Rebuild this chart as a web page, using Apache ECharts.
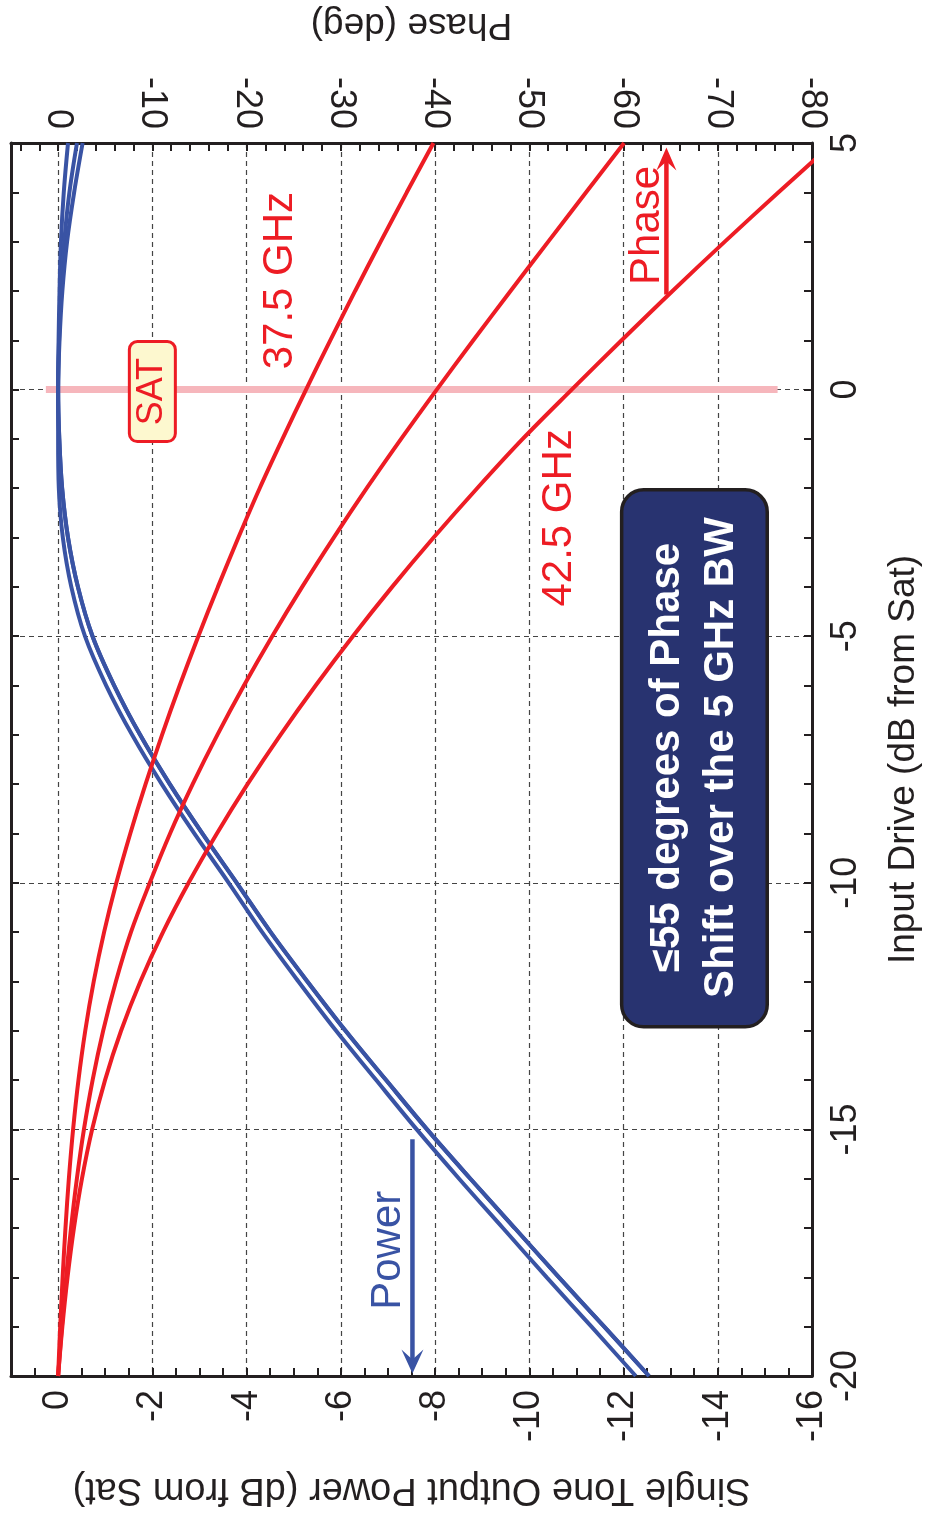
<!DOCTYPE html>
<html>
<head>
<meta charset="utf-8">
<script src="https://cdn.jsdelivr.net/npm/echarts@6/dist/echarts.min.js"></script>
<style>
html,body{margin:0;padding:0;background:#ffffff;}
#chart{width:929px;height:1513px;}
</style>
</head>
<body>
<div id="chart"></div>
<script>
// ---------------- DATA ----------------
const driveDb = [-20,-19,-18,-17,-16,-15,-14,-13,-12,-11,-10,-9,-8,-7,-6,-5,-4,-3,-2,-1,0,1,2,3,4,5];

// Single tone output power (dB from Sat), three measured traces
const powerTraceA = [-12.26,-11.32,-10.37,-9.44,-8.51,-7.61,-6.75,-5.90,-5.10,-4.33,-3.62,-2.89,-2.20,-1.57,-1.02,-0.57,-0.28,-0.10,-0.015,0,0,-0.01,-0.03,-0.06,-0.12,-0.21];
const powerTraceB = [-12.54,-11.59,-10.63,-9.69,-8.75,-7.83,-6.96,-6.10,-5.29,-4.51,-3.79,-3.06,-2.37,-1.74,-1.19,-0.73,-0.42,-0.21,-0.085,-0.025,0,-0.02,-0.06,-0.13,-0.24,-0.40];
const powerTraceC = [-12.54,-11.59,-10.63,-9.69,-8.75,-7.83,-6.96,-6.10,-5.29,-4.51,-3.79,-3.06,-2.37,-1.74,-1.19,-0.73,-0.42,-0.21,-0.085,-0.025,0,-0.03,-0.09,-0.19,-0.34,-0.52];

// Phase (deg) at three frequencies
const phase375GHz = [0,-0.22,-0.48,-0.78,-1.14,-1.59,-2.16,-2.88,-3.78,-4.88,-6.18,-7.66,-9.28,-11.03,-12.90,-14.88,-16.96,-19.13,-21.39,-23.81,-26.31,-28.88,-31.52,-34.23,-37.00,-39.83];
const phase400GHz = [0,-0.40,-0.85,-1.37,-1.99,-2.74,-3.66,-4.78,-6.13,-7.73,-9.73,-11.88,-14.28,-16.90,-19.72,-22.72,-25.90,-29.25,-32.75,-36.40,-40.18,-44.06,-48.01,-52.01,-56.03,-60.06];
const phase425GHz = [0,-0.45,-1.00,-1.68,-2.53,-3.61,-4.98,-6.68,-8.73,-11.13,-13.85,-16.85,-20.10,-23.60,-27.33,-31.28,-35.45,-39.85,-44.47,-49.30,-54.50,-59.80,-65.20,-70.75,-76.45,-82.25];

// Tick labels
const powerTickLabels = [0,-2,-4,-6,-8,-10,-12,-14,-16];
const phaseTickLabels = [0,-10,-20,-30,-40,-50,-60,-70,-80];
const driveTickLabels = [-20,-15,-10,-5,0,5];

// Saturation marker (drive dB) and extent of the band (power dB)
const satDrive = 0;
const satBandPower = [0.26, -15.27];

// Texts
const powerAxisTitle = 'Single Tone Output Power (dB from Sat)';
const phaseAxisTitle = 'Phase (deg)';
const driveAxisTitle = 'Input Drive (dB from Sat)';
const noteLines = ['\u226455 degrees of Phase', 'Shift over the 5 GHz BW'];

// ---------------- STYLE / LAYOUT ----------------
const FONT = "'Liberation Sans', Arial, Helvetica, sans-serif";
const INK = '#231f20';
const RED = '#ed1c24';
const BLUE = '#3953a4';
const NAVY = '#283370';

const chart = echarts.init(document.getElementById('chart'), null, {renderer: 'canvas'});

function isIn(list, v) { return list.some(t => Math.abs(t - v) < 1e-6); }
function fmt(list) { return v => isIn(list, v) ? String(Math.round(v)) : ''; }

const tickStyle = {show: true, inside: true, length: 8, lineStyle: {color: INK, width: 2}};
const lineStyleFrame = {show: true, onZero: false, lineStyle: {color: INK, width: 3}};
const labelBase = {color: INK, fontSize: 36, fontFamily: FONT};
const dashed = {show: true, lineStyle: {color: '#444', width: 1.2, type: [5, 4]}};
const hiddenLine = {show: false, onZero: false};

function mkSeries(xs, xAxisIndex, color, name, z) {
  return {
    type: 'line', name: name, xAxisIndex: xAxisIndex, yAxisIndex: 0,
    data: driveDb.map((d, i) => [xs[i], d]),
    symbol: 'none', showSymbol: false, smooth: 0.35, clip: true, silent: true,
    lineStyle: {color: color, width: 4}, z: z
  };
}

const option = {
  animation: false,
  backgroundColor: '#ffffff',
  grid: {left: 11, right: 117, top: 143, bottom: 137, containLabel: false, outerBoundsMode: 'none'},
  xAxis: [
    { // power axis (bottom)
      type: 'value', position: 'bottom', min: -16, max: 1, interval: 0.5, inverse: true,
      axisLine: lineStyleFrame, axisTick: tickStyle, splitLine: {show: false},
      axisLabel: Object.assign({rotate: 90, margin: 14, formatter: fmt(powerTickLabels)}, labelBase),
      name: powerAxisTitle, nameLocation: 'middle', nameRotate: 180, nameGap: 94,
      nameTextStyle: {color: INK, fontSize: 38, fontFamily: FONT}
    },
    { // phase axis (top)
      type: 'value', position: 'top', min: -80, max: 5, interval: 2, inverse: true,
      axisLine: lineStyleFrame, axisTick: tickStyle, splitLine: {show: false},
      axisLabel: Object.assign({rotate: 90, margin: 14, formatter: fmt(phaseTickLabels)}, labelBase),
      name: phaseAxisTitle, nameLocation: 'middle', nameRotate: 180, nameGap: 100,
      nameTextStyle: {color: INK, fontSize: 37, fontFamily: FONT}
    },
    { // grid lines only
      type: 'value', position: 'bottom', min: -16, max: 1, interval: 2, inverse: true,
      axisLine: hiddenLine, axisTick: {show: false}, axisLabel: {show: false},
      splitLine: dashed
    }
  ],
  yAxis: [
    { // input drive (right)
      type: 'value', position: 'right', min: -20, max: 5, interval: 1,
      axisLine: lineStyleFrame, axisTick: tickStyle, splitLine: {show: false},
      axisLabel: Object.assign({rotate: 90, margin: 16, formatter: fmt(driveTickLabels)}, labelBase),
      name: driveAxisTitle, nameLocation: 'middle', nameRotate: 90, nameGap: 73,
      nameTextStyle: {color: INK, fontSize: 37, fontFamily: FONT}
    },
    { // left mirror frame
      type: 'value', position: 'left', min: -20, max: 5, interval: 1,
      axisLine: lineStyleFrame, axisTick: tickStyle, splitLine: {show: false},
      axisLabel: {show: false}
    },
    { // grid lines only
      type: 'value', position: 'left', min: -20, max: 5, interval: 5,
      axisLine: hiddenLine, axisTick: {show: false}, axisLabel: {show: false},
      splitLine: dashed
    }
  ],
  series: [
    {
      type: 'line', name: 'SAT', xAxisIndex: 0, yAxisIndex: 0, silent: true,
      data: [[satBandPower[0], satDrive], [satBandPower[1], satDrive]],
      symbol: 'none', lineStyle: {color: '#f6b6bc', width: 7}, z: 1
    },
    mkSeries(powerTraceA, 0, BLUE, 'Power A', 2),
    mkSeries(powerTraceB, 0, BLUE, 'Power B', 2),
    mkSeries(powerTraceC, 0, BLUE, 'Power C', 2),
    mkSeries(phase375GHz, 1, RED, '37.5 GHz', 3),
    mkSeries(phase400GHz, 1, RED, '40 GHz', 3),
    mkSeries(phase425GHz, 1, RED, '42.5 GHz', 3)
  ]
};
chart.setOption(option);

// ---------------- ANNOTATIONS (anchored in data units) ----------------
const ann = {
  sat: {power: -2.0, drive: -0.04, w: 46, h: 100},
  label375: {power: -4.72, drive: 2.21},
  label425: {power: -10.64, drive: -2.6},
  phaseText: {power: -12.5, drive: 3.33},
  phaseArrow: {power: -12.91, from: 1.93, to: 4.91},
  powerText: {power: -7.0, drive: -17.45},
  powerArrow: {power: -7.52, from: -15.2, to: -19.95},
  note: {p1: -11.96, p2: -15.05, d1: -2.03, d2: -12.92, line1: -12.93, line2: -14.07, drive: -7.46}
};
function P(p, d) { return chart.convertToPixel({xAxisIndex: 0, yAxisIndex: 0}, [p, d]); }
function vtext(p, d, text, color, size, weight) {
  const xy = P(p, d);
  return {
    type: 'text', x: xy[0], y: xy[1], rotation: Math.PI / 2, z: 100,
    style: {text: text, fill: color, font: (weight || 'normal') + ' ' + size + 'px ' + FONT,
            align: 'center', verticalAlign: 'middle', textAlign: 'center', textVerticalAlign: 'middle'}
  };
}
const g = [];
// SAT box
(function () {
  const c = P(ann.sat.power, ann.sat.drive);
  g.push({type: 'rect', z: 100, shape: {x: c[0] - ann.sat.w / 2, y: c[1] - ann.sat.h / 2, width: ann.sat.w, height: ann.sat.h, r: 8},
          style: {fill: '#fdf8cf', stroke: RED, lineWidth: 3}});
  g.push(vtext(ann.sat.power, ann.sat.drive, 'SAT', RED, 36));
})();
g.push(vtext(ann.label375.power, ann.label375.drive, '37.5 GHz', RED, 42));
g.push(vtext(ann.label425.power, ann.label425.drive, '42.5 GHz', RED, 42));
g.push(vtext(ann.phaseText.power, ann.phaseText.drive, 'Phase', RED, 42));
g.push(vtext(ann.powerText.power, ann.powerText.drive, 'Power', BLUE, 42));
// Phase arrow (up)
(function () {
  const a = P(ann.phaseArrow.power, ann.phaseArrow.from), b = P(ann.phaseArrow.power, ann.phaseArrow.to);
  g.push({type: 'line', z: 100, shape: {x1: a[0], y1: a[1], x2: b[0], y2: b[1] + 12}, style: {stroke: RED, lineWidth: 4.5}});
  g.push({type: 'polygon', z: 100, shape: {points: [[b[0], b[1]], [b[0] - 10, b[1] + 23], [b[0], b[1] + 14], [b[0] + 10, b[1] + 23]]}, style: {fill: RED}});
})();
// Power arrow (down)
(function () {
  const a = P(ann.powerArrow.power, ann.powerArrow.from), b = P(ann.powerArrow.power, ann.powerArrow.to);
  g.push({type: 'line', z: 100, shape: {x1: a[0], y1: a[1], x2: b[0], y2: b[1] - 12}, style: {stroke: BLUE, lineWidth: 4.5}});
  g.push({type: 'polygon', z: 100, shape: {points: [[b[0], b[1]], [b[0] - 11, b[1] - 24], [b[0], b[1] - 14], [b[0] + 11, b[1] - 24]]}, style: {fill: BLUE}});
})();
// Note box
(function () {
  const a = P(ann.note.p1, ann.note.d1), b = P(ann.note.p2, ann.note.d2);
  g.push({type: 'rect', z: 100, shape: {x: Math.min(a[0], b[0]), y: Math.min(a[1], b[1]), width: Math.abs(b[0] - a[0]), height: Math.abs(b[1] - a[1]), r: 22},
          style: {fill: NAVY, stroke: INK, lineWidth: 3.5}});
  g.push(vtext(ann.note.line1, ann.note.drive, noteLines[0], '#ffffff', 42, 'bold'));
  g.push(vtext(ann.note.line2, ann.note.drive, noteLines[1], '#ffffff', 42, 'bold'));
})();
chart.setOption({graphic: {elements: g}});
</script>
</body>
</html>
